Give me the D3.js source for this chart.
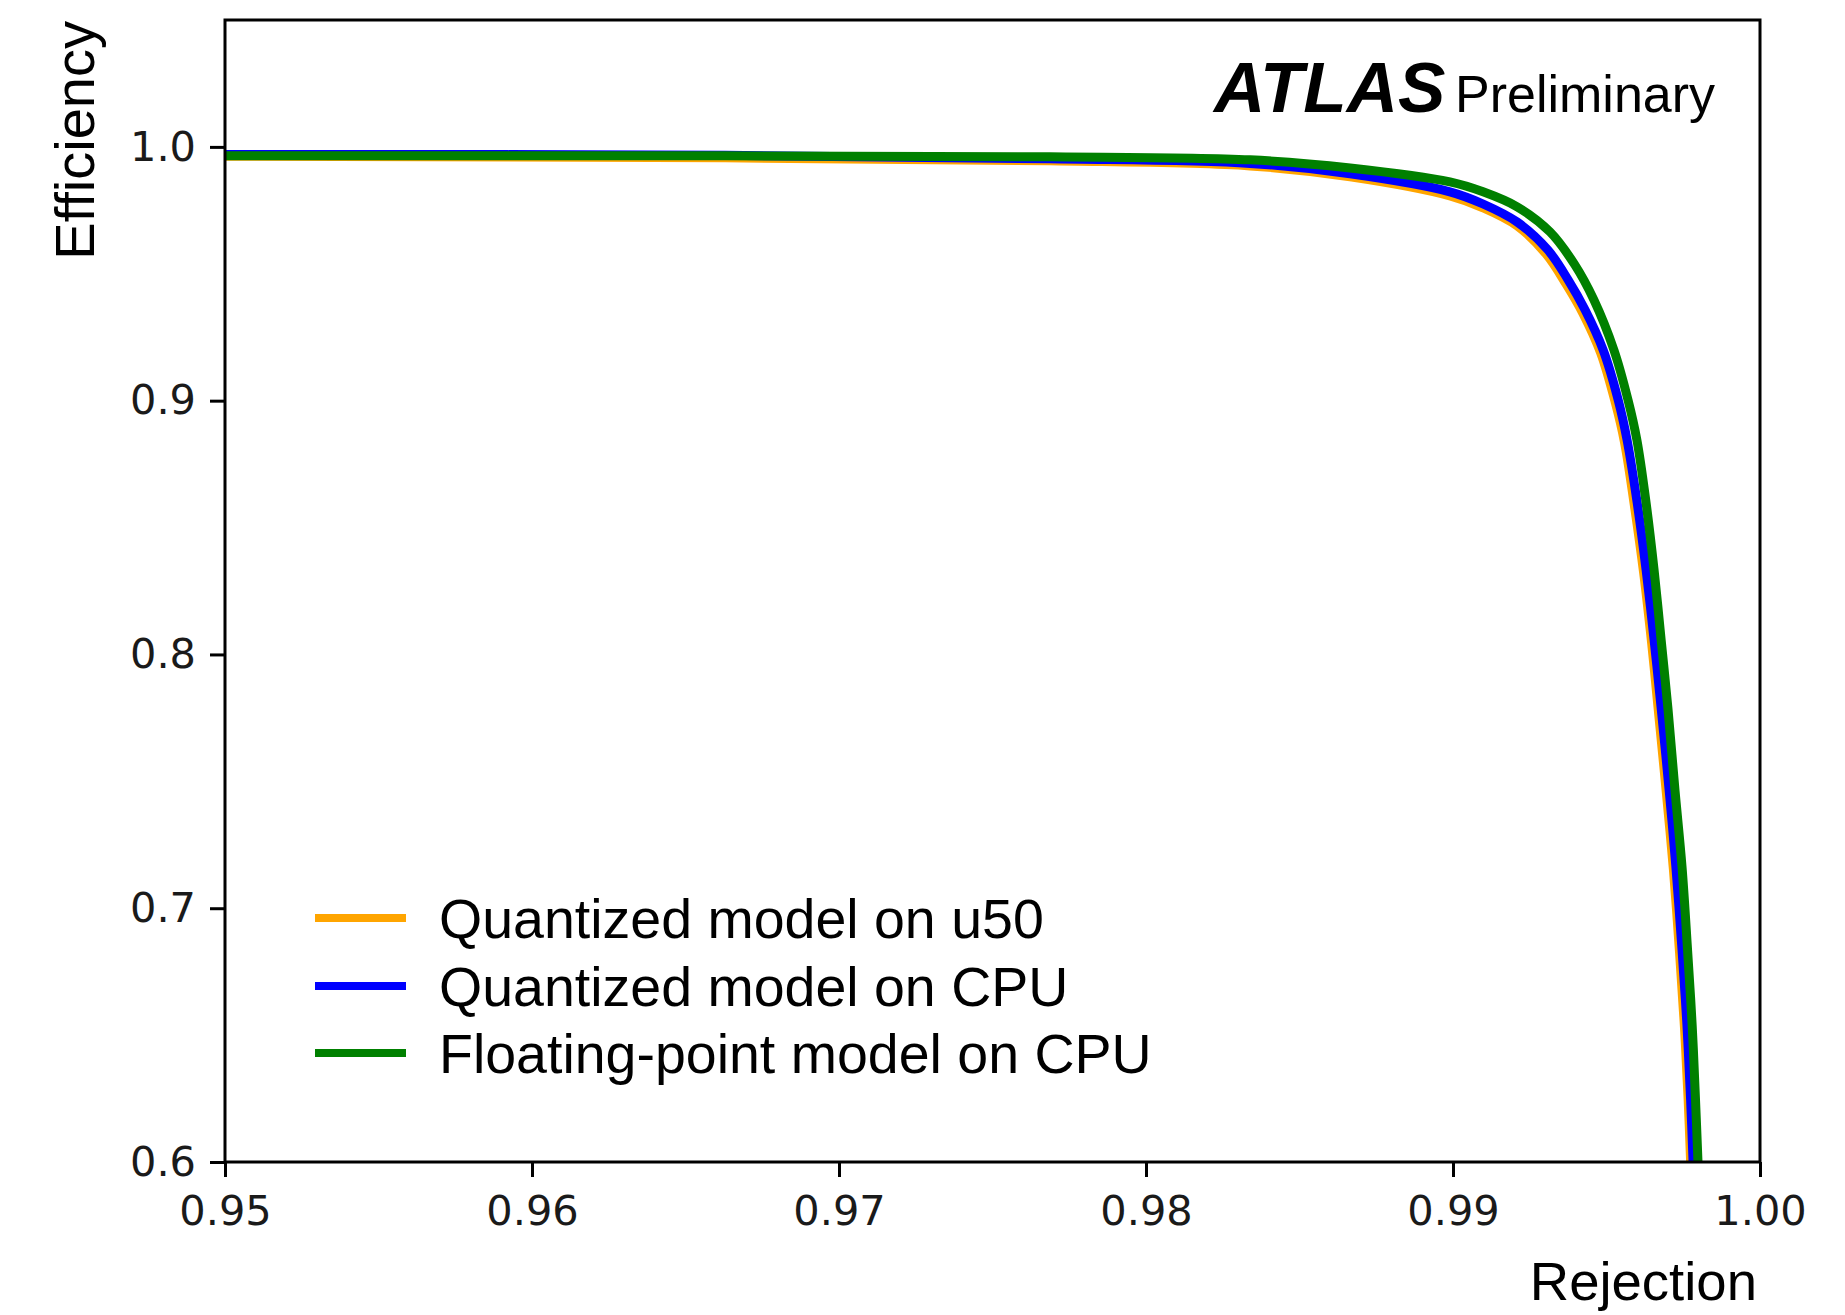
<!DOCTYPE html>
<html>
<head>
<meta charset="utf-8">
<script src="https://cdn.jsdelivr.net/npm/d3@7/dist/d3.min.js"></script>
<style>
  html, body { margin: 0; padding: 0; background: #fff; }
  svg { display: block; }
</style>
</head>
<body>
<svg id="chart" width="1845" height="1315"></svg>
<script>
// Efficiency vs. background rejection for the three model variants
const seriesNames = ["Quantized model on u50", "Quantized model on CPU", "Floating-point model on CPU"];
const seriesColors = ["#ffa500", "#0000ff", "#008000"];

const u50Rejection = [0.95000, 0.96629, 0.97687, 0.98339, 0.98665, 0.98990, 0.99098, 0.99209, 0.99303, 0.99368, 0.99424, 0.99481, 0.99529, 0.99559, 0.99591, 0.99621, 0.99647, 0.99669, 0.99695, 0.99718, 0.99738, 0.99754, 0.99766, 0.99774];
const u50Efficiency = [0.9963, 0.9957, 0.9945, 0.9925, 0.9882, 0.9807, 0.9760, 0.9689, 0.9578, 0.9460, 0.9342, 0.9188, 0.8991, 0.8834, 0.8585, 0.8321, 0.8045, 0.7777, 0.7454, 0.7151, 0.6824, 0.6528, 0.6244, 0.6000];

const cpuQRejection = [0.95000, 0.96629, 0.97687, 0.98339, 0.98665, 0.98990, 0.99098, 0.99209, 0.99309, 0.99375, 0.99430, 0.99489, 0.99538, 0.99567, 0.99600, 0.99629, 0.99655, 0.99678, 0.99704, 0.99726, 0.99746, 0.99762, 0.99774, 0.99782];
const cpuQEfficiency = [0.9970, 0.9967, 0.9953, 0.9935, 0.9894, 0.9823, 0.9775, 0.9704, 0.9594, 0.9476, 0.9358, 0.9200, 0.9003, 0.8845, 0.8597, 0.8333, 0.8057, 0.7789, 0.7466, 0.7163, 0.6836, 0.6540, 0.6244, 0.6000];

const cpuFRejection = [0.95000, 0.96629, 0.97687, 0.98339, 0.98665, 0.98990, 0.99098, 0.99209, 0.99316, 0.99397, 0.99459, 0.99524, 0.99570, 0.99599, 0.99629, 0.99655, 0.99678, 0.99700, 0.99723, 0.99746, 0.99764, 0.99779, 0.99790, 0.99798];
const cpuFEfficiency = [0.9965, 0.9965, 0.9961, 0.9949, 0.9917, 0.9862, 0.9823, 0.9764, 0.9665, 0.9535, 0.9397, 0.9200, 0.9003, 0.8845, 0.8597, 0.8333, 0.8057, 0.7789, 0.7466, 0.7163, 0.6836, 0.6540, 0.6244, 0.6000];

const xTickValues = [0.95, 0.96, 0.97, 0.98, 0.99, 1.00];
const xTickLabels = ["0.95", "0.96", "0.97", "0.98", "0.99", "1.00"];
const yTickValues = [0.6, 0.7, 0.8, 0.9, 1.0];
const yTickLabels = ["0.6", "0.7", "0.8", "0.9", "1.0"];

const svg = d3.select("#chart");
const plot = { left: 225, right: 1760, top: 20, bottom: 1162 };

const x = d3.scaleLinear().domain([0.95, 1.00]).range([plot.left, plot.right]);
const y = d3.scaleLinear().domain([0.6, 1.05]).range([plot.bottom, plot.top]);

svg.append("defs").append("clipPath").attr("id", "plot-clip")
  .append("rect")
  .attr("x", plot.left).attr("y", plot.top)
  .attr("width", plot.right - plot.left).attr("height", plot.bottom - plot.top);

// Curves (orange drawn first, green last on top)
const series = [
  { rej: u50Rejection, eff: u50Efficiency },
  { rej: cpuQRejection, eff: cpuQEfficiency },
  { rej: cpuFRejection, eff: cpuFEfficiency }
];
const line = d3.line().x(d => x(d[0])).y(d => y(d[1])).curve(d3.curveCatmullRom.alpha(0.5));
const curves = svg.append("g").attr("clip-path", "url(#plot-clip)");
series.forEach((s, i) => {
  curves.append("path")
    .datum(d3.zip(s.rej, s.eff))
    .attr("d", line)
    .attr("fill", "none")
    .attr("stroke", seriesColors[i])
    .attr("stroke-width", 9)
    .attr("stroke-linejoin", "round");
});

// Axes
const tickFont = "'DejaVu Sans', sans-serif";
const xAxis = d3.axisBottom(x).tickValues(xTickValues)
  .tickFormat((d, i) => xTickLabels[i]).tickSizeInner(15).tickSizeOuter(0).tickPadding(19);
const yAxis = d3.axisLeft(y).tickValues(yTickValues)
  .tickFormat((d, i) => yTickLabels[i]).tickSizeInner(15).tickSizeOuter(0).tickPadding(14);

const gx = svg.append("g").attr("transform", `translate(0,${plot.bottom})`).call(xAxis);
const gy = svg.append("g").attr("transform", `translate(${plot.left},0)`).call(yAxis);
[gx, gy].forEach(g => {
  g.select(".domain").remove();
  g.selectAll(".tick line").attr("stroke", "#000").attr("stroke-width", 3);
  g.selectAll(".tick text").attr("fill", "#1a1a1a")
    .style("font-family", tickFont).style("font-size", "41.5px");
});

// Frame
svg.append("rect")
  .attr("x", plot.left).attr("y", plot.top)
  .attr("width", plot.right - plot.left).attr("height", plot.bottom - plot.top)
  .attr("fill", "none").attr("stroke", "#000").attr("stroke-width", 3);

// Axis titles
const labelFont = "'Liberation Sans', Arial, Helvetica, sans-serif";
svg.append("text")
  .attr("x", 1757).attr("y", 1300)
  .attr("text-anchor", "end")
  .style("font-family", labelFont).style("font-size", "54.5px")
  .text("Rejection");
svg.append("text")
  .attr("transform", "translate(94,21) rotate(-90)")
  .attr("text-anchor", "end")
  .style("font-family", labelFont).style("font-size", "56px")
  .text("Efficiency");

// Experiment label
const atlas = svg.append("text")
  .attr("x", 1214).attr("y", 112)
  .style("font-family", labelFont);
atlas.append("tspan").style("font-size", "71px").style("font-weight", "bold").style("font-style", "italic").text("ATLAS");
atlas.append("tspan").attr("x", 1455).style("font-size", "52px").text("Preliminary");

// Legend
const legend = svg.append("g");
const legendRows = [918, 986, 1053];
seriesNames.forEach((name, i) => {
  legend.append("line")
    .attr("x1", 315).attr("x2", 406)
    .attr("y1", legendRows[i]).attr("y2", legendRows[i])
    .attr("stroke", seriesColors[i]).attr("stroke-width", 8);
  legend.append("text")
    .attr("x", 439).attr("y", legendRows[i] + 20)
    .style("font-family", labelFont).style("font-size", "55.5px")
    .text(name);
});
</script>
</body>
</html>
